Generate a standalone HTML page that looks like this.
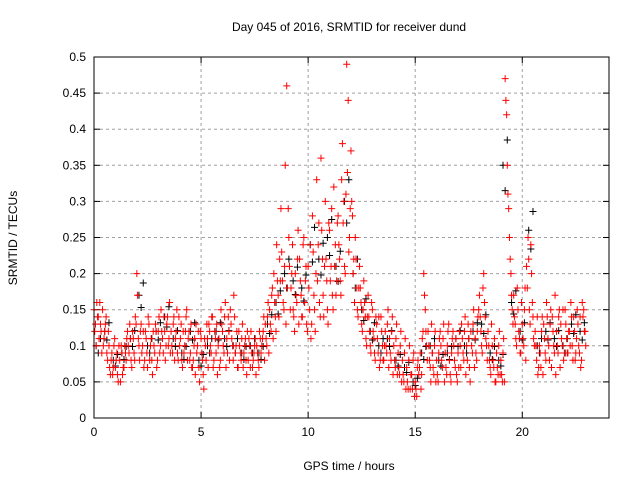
<!DOCTYPE html>
<html><head><meta charset="utf-8"><style>
body{margin:0;background:#fff}
svg{display:block;font-family:"Liberation Sans",sans-serif;font-size:12px}
</style></head><body>
<svg id="chart" width="640" height="480">
<text x="349" y="31" text-anchor="middle">Day 045 of 2016, SRMTID for receiver dund</text>
<text x="349" y="470" text-anchor="middle">GPS time / hours</text>
<text transform="translate(17,238) rotate(-90)" text-anchor="middle">SRMTID / TECUs</text>
<g id="grid"></g>
<g id="ticks"></g>
<g id="black"></g>
<g id="red"></g>
<rect x="94" y="57" width="515" height="361" fill="none" stroke="#000"/>
</svg>
<script>
const xTicks=[0,5,10,15,20];
const yTicks=[0,0.05,0.1,0.15,0.2,0.25,0.3,0.35,0.4,0.45,0.5];
const yLabels=["0","0.05","0.1","0.15","0.2","0.25","0.3","0.35","0.4","0.45","0.5"];
const redT=[0,0.2,0.4,0.6,0.8,1,1.2,1.4,1.6,1.8,2,2.2,2.4,2.6,2.8,3,3.2,3.4,3.6,3.8,4,4.2,4.4,4.6,4.8,5,5.2,5.4,5.6,5.8,6,6.2,6.4,6.6,6.8,7,7.2,7.4,7.6,7.8,8,8.2,8.4,8.6,8.8,9,9.2,9.4,9.6,9.8,10,10.2,10.4,10.6,10.8,11,11.2,11.4,11.6,11.8,12,12.2,12.4,12.6,12.8,13,13.2,13.4,13.6,13.8,14,14.2,14.4,14.6,14.8,15,15.2,15.4,15.6,15.8,16,16.2,16.4,16.6,16.8,17,17.2,17.4,17.6,17.8,18,18.2,18.4,18.6,18.8,19,19.2,19.4,19.6,19.8,20,20.2,20.4,20.6,20.8,21,21.2,21.4,21.6,21.8,22,22.2,22.4,22.6,22.8];
const redV=[[.15,.13,.16],[.14,.16,.12],[.15,.11,.13],[.09,.12,.07],[.08,.06,.10],[.07,.09,.05],[.08,.10,.06],[.07,.09,.11],[.10,.13,.08],[.12,.09,.14],[.20,.11,.08],[.13,.10,.07],[.12,.09,.14],[.08,.11,.06],[.10,.13,.07],[.12,.09,.15],[.11,.14,.08],[.13,.10,.16],[.12,.09,.14],[.11,.15,.08],[.10,.13,.07],[.09,.12,.15],[.11,.08,.13],[.07,.10,.06],[.09,.12,.05],[.11,.08,.04],[.10,.13,.07],[.12,.09,.14],[.08,.11,.13],[.10,.07,.15],[.12,.09,.16],[.11,.14,.08],[.13,.10,.17],[.09,.12,.07],[.10,.08,.13],[.09,.11,.06],[.08,.10,.12],[.07,.09,.11],[.10,.08,.12],[.09,.11,.14],[.13,.10,.16],[.15,.12,.18],[.20,.14,.24],[.17,.22,.29],[.19,.15,.35],[.46,.29,.21],[.18,.24,.14],[.20,.16,.26],[.22,.17,.14],[.25,.19,.13],[.21,.15,.11],[.28,.17,.12],[.33,.24,.16],[.36,.22,.14],[.30,.19,.13],[.26,.21,.17],[.32,.24,.19],[.28,.22,.17],[.38,.30,.20],[.49,.44,.25],[.37,.28,.22],[.25,.18,.14],[.21,.16,.12],[.19,.14,.10],[.17,.12,.09],[.15,.11,.08],[.13,.09,.07],[.14,.10,.08],[.12,.09,.15],[.11,.08,.14],[.10,.07,.13],[.09,.06,.12],[.08,.05,.11],[.07,.04,.10],[.06,.04,.09],[.05,.03,.08],[.07,.04,.11],[.20,.15,.10],[.12,.08,.05],[.09,.06,.12],[.08,.05,.11],[.10,.07,.13],[.09,.06,.12],[.08,.05,.11],[.10,.07,.06],[.09,.12,.07],[.11,.08,.14],[.10,.13,.07],[.12,.09,.15],[.11,.08,.14],[.17,.12,.09],[.20,.14,.10],[.12,.08,.06],[.10,.07,.05],[.09,.06,.12],[.08,.05,.11],[.47,.42,.31],[.25,.20,.15],[.17,.13,.10],[.15,.11,.09],[.13,.10,.18],[.21,.25,.15],[.24,.16,.11],[.12,.08,.06],[.10,.07,.14],[.13,.09,.16],[.11,.08,.15],[.14,.10,.17],[.12,.09,.15],[.13,.10,.08],[.15,.11,.09],[.12,.16,.10],[.14,.08,.11],[.13,.09,.07],[.16,.15,.12]];
const redV2=[[.12,.10,.14],[.11,.13,.09],[.10,.12,.14],[.08,.10,.06],[.09,.07,.11],[.08,.06,.10],[.05,.09,.07],[.10,.08,.12],[.09,.11,.07],[.11,.08,.13],[.17,.10,.12],[.09,.12,.08],[.11,.07,.13],[.10,.08,.12],[.09,.12,.08],[.14,.10,.12],[.09,.12,.10],[.14,.11,.09],[.10,.13,.08],[.12,.09,.14],[.11,.08,.12],[.10,.14,.08],[.12,.09,.07],[.08,.11,.13],[.10,.07,.12],[.09,.06,.11],[.08,.11,.13],[.10,.14,.07],[.12,.09,.06],[.11,.08,.13],[.10,.14,.07],[.09,.12,.15],[.11,.08,.14],[.10,.07,.12],[.09,.11,.07],[.10,.08,.12],[.11,.07,.09],[.08,.10,.06],[.09,.07,.11],[.10,.12,.08],[.11,.14,.09],[.13,.17,.11],[.16,.12,.19],[.14,.19,.23],[.16,.21,.13],[.18,.25,.15],[.20,.15,.12],[.17,.22,.13],[.19,.14,.24],[.16,.21,.12],[.18,.24,.13],[.23,.15,.20],[.19,.27,.14],[.26,.17,.21],[.22,.15,.27],[.19,.29,.15],[.21,.17,.27],[.24,.19,.33],[.27,.21,.31],[.34,.23,.29],[.30,.20,.16],[.22,.15,.18],[.18,.13,.15],[.16,.11,.14],[.14,.10,.16],[.12,.09,.14],[.11,.14,.08],[.12,.08,.10],[.10,.13,.07],[.09,.12,.06],[.08,.11,.06],[.07,.10,.05],[.06,.09,.04],[.05,.08,.04],[.06,.08,.03],[.04,.07,.06],[.09,.06,.12],[.17,.12,.08],[.10,.07,.13],[.07,.10,.05],[.06,.09,.12],[.08,.11,.05],[.07,.10,.13],[.06,.09,.12],[.08,.11,.05],[.07,.10,.13],[.09,.12,.06],[.08,.11,.05],[.10,.13,.07],[.09,.12,.15],[.14,.10,.18],[.16,.11,.08],[.10,.07,.13],[.08,.11,.05],[.07,.10,.06],[.06,.09,.05],[.44,.35,.29],[.22,.17,.13],[.14,.11,.18],[.12,.09,.16],[.11,.15,.08],[.18,.22,.13],[.20,.14,.10],[.10,.14,.07],[.09,.12,.06],[.11,.08,.14],[.10,.13,.07],[.12,.09,.06],[.10,.14,.07],[.11,.15,.09],[.13,.09,.12],[.10,.14,.08],[.12,.09,.15],[.10,.14,.08],[.14,.12,.10]];
const blackT=[0.1,0.5,0.9,1.3,1.7,2.1,2.5,2.9,3.3,3.7,4.1,4.5,4.9,5.3,5.7,6.1,6.5,6.9,7.3,7.7,8.1,8.5,8.9,9.3,9.7,10.1,10.5,10.9,11.3,11.7,12.1,12.5,12.9,13.3,13.7,14.1,14.5,14.9,15.3,15.7,16.1,16.5,16.9,17.3,17.7,18.1,18.5,18.9,19.1,19.5,19.9,20.3,20.7,21.1,21.5,21.9,22.3,22.7];
const blackV=[.10,.12,.08,.09,.11,.17,.10,.12,.14,.11,.09,.12,.08,.10,.12,.11,.10,.09,.10,.09,.13,.16,.20,.19,.18,.24,.22,.25,.21,.30,.20,.15,.12,.10,.11,.08,.07,.05,.09,.10,.08,.09,.11,.10,.12,.13,.09,.08,.35,.16,.12,.26,.10,.12,.11,.10,.13,.12];
const X0=94,XW=515,XMAX=24.05,Y0=418,YH=361,YMAX=0.5;
const sx=t=>X0+t/XMAX*XW, sy=v=>Y0-v/YMAX*YH;
const NS="http://www.w3.org/2000/svg";
function mk(tag,attrs,parent){const e=document.createElementNS(NS,tag);for(const k in attrs)e.setAttribute(k,attrs[k]);parent.appendChild(e);return e;}
const grid=document.getElementById('grid'),ticks=document.getElementById('ticks');
yTicks.forEach((v,i)=>{const y=sy(v);
 if(i>0&&i<yTicks.length-1){const l=mk('line',{x1:X0,x2:X0+XW,y1:y,y2:y,stroke:'#a0a0a0','stroke-dasharray':'3,3'},grid);}
 mk('line',{x1:X0,x2:X0+6,y1:y,y2:y,stroke:'#000'},ticks);mk('line',{x1:X0+XW-6,x2:X0+XW,y1:y,y2:y,stroke:'#000'},ticks);
 const t=mk('text',{x:X0-8,y:y+4,'text-anchor':'end'},ticks);t.textContent=yLabels[i];
 });
xTicks.forEach(v=>{const x=sx(v);
 if(v>0){const l=mk('line',{x1:x,x2:x,y1:Y0-YH,y2:Y0,stroke:'#a0a0a0','stroke-dasharray':'3,3'},grid);}
 mk('line',{x1:x,x2:x,y1:Y0,y2:Y0-6,stroke:'#000'},ticks);mk('line',{x1:x,x2:x,y1:Y0-YH,y2:Y0-YH+6,stroke:'#000'},ticks);
 const t=mk('text',{x:x,y:Y0+18,'text-anchor':'middle'},ticks);t.textContent=String(v);
 });
function plus(g,t,v,col,name){const x=sx(t),y=sy(v);
 const p=mk('path',{d:`M${x-3.5},${y}h7M${x},${y-3.5}v7`,stroke:col,'stroke-width':1,fill:'none'},g);
 
 }
const bg=document.getElementById('black'),rg=document.getElementById('red');
const offs=[0,0.07,0.13],offs2=[0.035,0.1,0.165];
blackT.forEach((t,i)=>{plus(bg,t,blackV[i],'#000','black-point');plus(bg,t+0.1,blackV[i]*0.9,'#000','black-point');plus(bg,t+0.2,blackV[i]*1.1,'#000','black-point');});
redT.forEach((t,i)=>redV[i].forEach((v,j)=>plus(rg,t+offs[j],v,'#ff0000','red-point')));
redT.forEach((t,i)=>redV2[i].forEach((v,j)=>plus(rg,t+offs2[j],v,'#ff0000','red-point')));
</script>
</body></html>
